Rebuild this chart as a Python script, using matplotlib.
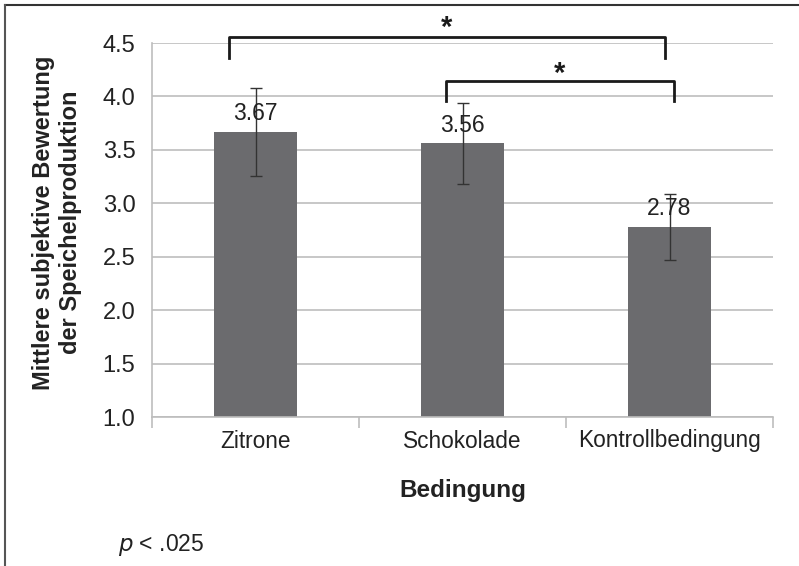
import matplotlib
matplotlib.use("Agg")
import matplotlib.pyplot as plt
from matplotlib.lines import Line2D

plt.rcParams['font.family'] = ['Liberation Sans', 'DejaVu Sans']

categories = ["Zitrone", "Schokolade", "Kontrollbedingung"]
means = [3.67, 3.56, 2.78]
errors = [0.41, 0.38, 0.31]
yticks = [1.0, 1.5, 2.0, 2.5, 3.0, 3.5, 4.0, 4.5]

# significance brackets: (left x, right x, top y, left leg end, right leg end, star baseline)
brackets = [
    (-0.13, 1.98, 4.56, 4.36, 4.36, 4.57),
    (0.92, 2.02, 4.14, 3.96, 3.96, 4.14),
]

fig = plt.figure(figsize=(7.99, 5.66), dpi=100)
ax = fig.add_axes([152 / 799, 1 - 417 / 566, (773 - 152) / 799, (417 - 43) / 566])

x = list(range(len(categories)))
grid_c = "#bdbdbd"
ax.set_ylim(1.0, 4.5)
ax.set_xlim(-0.5, 2.5)
ax.set_yticks(yticks)
ax.set_yticklabels([f"{v:.1f}" for v in yticks], fontsize=17, color="#222222")
ax.yaxis.grid(True, color=grid_c, linewidth=1.2)
ax.set_axisbelow(True)
ax.tick_params(axis='y', length=0, pad=12)

ax.bar(x, means, width=0.4, color="#6b6b6e", zorder=2)
ax.errorbar(x, means, yerr=errors, fmt='none', ecolor="#333333",
            elinewidth=1, capsize=4, capthick=1, zorder=3)
for xi, m in zip(x, means):
    ax.text(xi, m + 0.06, f"{m:.2f}", ha='center', va='bottom',
            fontsize=16.5, color="#222222", zorder=4)

for s in ['top', 'right']:
    ax.spines[s].set_visible(False)
ax.spines['left'].set_color(grid_c)
ax.spines['bottom'].set_color(grid_c)
ax.spines['left'].set_linewidth(1.2)
ax.spines['bottom'].set_linewidth(1.2)

ax.set_xticks(x)
ax.set_xticklabels(categories, fontsize=16.3, color="#222222")
ax.tick_params(axis='x', length=0, pad=9)
ax.set_xticks([-0.5, 0.5, 1.5, 2.5], minor=True)
ax.tick_params(axis='x', which='minor', length=8, color=grid_c, width=1.2)

ax.set_xlabel("Bedingung", fontsize=17.5, fontweight='bold', labelpad=19,
              color="#222222")
ax.set_ylabel("Mittlere subjektive Bewertung\nder Speichelproduktion",
              fontsize=17, fontweight='bold', color="#222222")
ax.yaxis.set_label_coords(-(152 - 82) / (773 - 152), 0.52)

for (x0, x1, top, l0, l1, sy) in brackets:
    ax.plot([x0, x0, x1, x1], [l0, top, top, l1], color="#1a1a1a",
            linewidth=2, clip_on=False, solid_joinstyle='round', zorder=5)
    ax.text((x0 + x1) / 2, sy, "*", ha='center', va='baseline',
            fontsize=21, fontweight='bold', clip_on=False, color="#1a1a1a")

fig.text(118 / 799, 1 - 545 / 566, r"$\it{p}$ < .025", fontsize=16.5,
         va='center', ha='left', color="#222222")

# frame lines along the top and left edge
fig.add_artist(Line2D([5 / 799, 1], [1 - 5 / 566, 1 - 5 / 566],
                      transform=fig.transFigure, color="#333333", linewidth=1.5))
fig.add_artist(Line2D([5 / 799, 5 / 799], [0, 1 - 5 / 566],
                      transform=fig.transFigure, color="#555555", linewidth=1.5))

fig.savefig("out.png", dpi=100)
